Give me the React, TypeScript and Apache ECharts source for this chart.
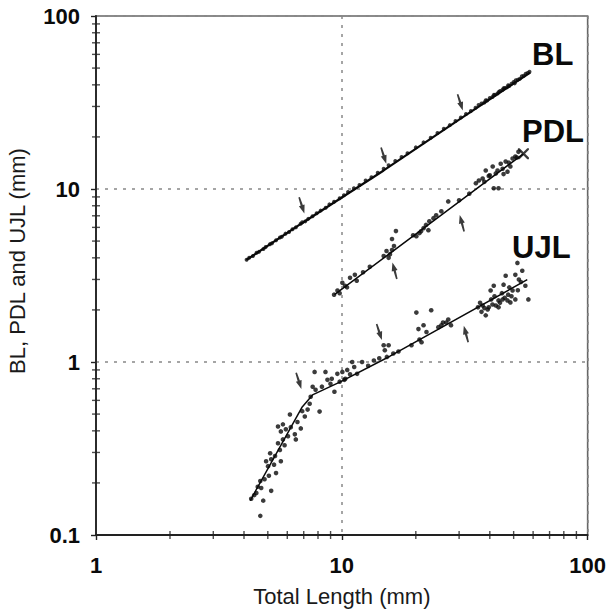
import React, { useEffect, useRef } from "react";
import * as echarts from "echarts";

// ---------- data ----------
const xTickLabels = ["1", "10", "100"];
const yTickLabels = ["0.1", "1", "10", "100"];
const xMinorTicks = [2, 3, 4, 5, 6, 7, 8, 9, 20, 30, 40, 50, 60, 70, 80, 90];
const yMinorTicks = [0.2, 0.3, 0.4, 0.5, 0.6, 0.7, 0.8, 0.9, 2, 3, 4, 5, 6, 7, 8, 9, 20, 30, 40, 50, 60, 70, 80, 90];

// fitted allometric lines (total length mm, part length mm)
const blFit = [[4.09, 3.89], [6.81, 6.28], [14.8, 12.8], [30.0, 25.2], [58.4, 47.1]];
const pdlFit = [[9.33, 2.45], [16.3, 4.42], [31.1, 8.78], [54.8, 15.98]];
const ujlFit = [[4.24, 0.158], [6.9, 0.55], [7.6, 0.645], [9.86, 0.768], [15.7, 1.08], [56.8, 2.99]];

// observations
const blPoints = [
  [4.1, 3.9], [4.2, 4.0], [4.35, 4.1], [4.5, 4.28], [4.6, 4.33], [4.8, 4.5], [4.9, 4.62], [5.1, 4.8],
  [5.2, 4.86], [5.4, 5.05], [5.6, 5.25], [5.7, 5.3], [5.9, 5.52], [6.1, 5.64], [6.3, 5.85], [6.5, 6.0],
  [6.8, 6.3], [6.9, 6.42], [7.1, 6.5], [7.3, 6.72], [7.6, 6.95], [7.9, 7.25], [8.2, 7.5], [8.6, 7.8],
  [8.9, 8.15], [9.3, 8.45], [9.8, 8.85], [10.2, 9.2], [10.6, 9.6], [11.2, 10.1], [11.8, 10.55], [12.5, 11.2],
  [13.2, 11.7], [14.0, 12.4], [14.8, 13.1], [15.5, 13.7], [16.5, 14.5], [17.5, 15.3], [18.5, 16.1], [20, 17.4],
  [21.5, 18.6], [23, 19.8], [24.5, 21.1], [26, 22.3], [27.5, 23.4], [29, 24.7], [30.5, 25.9], [32, 27.1],
  [33.5, 28.2], [35, 29.5], [36, 30.6], [37, 31.2], [38, 31.6], [38.5, 32.6], [39, 32.5], [40, 33.6],
  [41, 34.0], [41.5, 35.0], [42, 35.1], [43, 35.6], [43.5, 36.4], [44, 36.9], [45, 37.3], [45.5, 38.2],
  [46, 38.3], [47, 38.7], [47.5, 39.8], [48, 39.4], [49, 40.6], [50, 41.5], [50.5, 40.8], [51, 42.5],
  [52, 42.8], [53, 43.4], [54, 44.8], [55, 45.2], [56, 46.3], [57, 46.8], [58, 47.6]
];

const pdlPoints = [
  [9.3, 2.45], [9.6, 2.59], [10.05, 2.87], [10.3, 2.76], [10.8, 3.07], [11.3, 3.19], [11.5, 2.95], [9.8, 2.5],
  [10.5, 2.7], [12.2, 3.3], [13.0, 3.55], [14.8, 4.1], [15.2, 4.38], [15.5, 4.0], [16.0, 4.44], [16.3, 4.68],
  [16.6, 5.71], [16.0, 5.14], [15.7, 4.2], [20.1, 5.34], [20.7, 5.56], [21.5, 5.94], [22.5, 5.78], [22.7, 6.51],
  [23.6, 6.78], [24.2, 7.05], [25.4, 7.43], [27.1, 8.48], [21.0, 5.7], [22.0, 6.2], [19.5, 5.4], [30, 8.6],
  [33, 9.4], [35.1, 10.8], [36.1, 11.2], [37.4, 11.5], [38.5, 12.8], [39.6, 11.9], [41.1, 13.5], [41.5, 10.1],
  [42.3, 12.3], [43.4, 10.1], [44.3, 14.0], [45.1, 13.1], [46.4, 14.4], [47.2, 12.6], [48.5, 13.5], [49.5, 15.0],
  [50.8, 15.4], [52.3, 16.4], [38, 11.0], [40, 12.0], [43, 12.8], [45.5, 12.2], [47.8, 14.2], [51.5, 15.2]
];
const pdlEndMark = [[54.8, 16.0]];

const ujlPoints = [
  [4.66, 0.129], [4.28, 0.162], [4.49, 0.175], [4.7, 0.187], [5.16, 0.18], [4.79, 0.158], [4.66, 0.205],
  [5.01, 0.25], [4.92, 0.267], [5.35, 0.286], [5.5, 0.339], [5.11, 0.297], [5.76, 0.357], [5.5, 0.424],
  [5.65, 0.397], [5.92, 0.408], [6.15, 0.497], [6.44, 0.382], [6.5, 0.357], [5.76, 0.436], [6.04, 0.372],
  [5.4, 0.228], [5.65, 0.267], [5.16, 0.274], [6.81, 0.413], [7.07, 0.484], [7.26, 0.531], [7.47, 0.63],
  [7.82, 0.691], [7.4, 0.574], [7.61, 0.719], [7.75, 0.876], [8.12, 0.517], [8.74, 0.789], [8.99, 0.748],
  [9.59, 0.854], [10.05, 0.876], [9.33, 0.673], [10.24, 0.789], [8.58, 0.876], [10.33, 0.799], [10.52, 0.9],
  [11.02, 1.0], [11.23, 0.936], [11.54, 0.854], [12.09, 1.0], [4.4, 0.17], [4.55, 0.19], [4.85, 0.21],
  [5.05, 0.22], [5.3, 0.255], [5.6, 0.31], [5.85, 0.33], [6.2, 0.42], [6.6, 0.45], [6.9, 0.52], [8.3, 0.72],
  [9.1, 0.8], [9.8, 0.77], [10.8, 0.85], [12.8, 0.95], [13.5, 1.02], [14.8, 1.25], [15.25, 1.07], [15.5, 1.25],
  [14.96, 1.17], [20.1, 1.93], [23.1, 1.99], [20.5, 1.55], [21.5, 1.63], [22.1, 1.49], [20.7, 1.35],
  [25.8, 1.69], [27.1, 1.76], [27.8, 1.63], [21.1, 1.3], [19.2, 1.25], [16.2, 1.12], [17.0, 1.15], [14.2, 1.05],
  [25.4, 1.63], [26.6, 1.69], [24.7, 1.59], [51.8, 3.74], [54.2, 3.37], [50.8, 3.19], [46.4, 3.15], [45.5, 2.8],
  [55.8, 2.76], [57.4, 2.3], [49.5, 2.59], [41.5, 2.76], [40.3, 2.59], [43.4, 2.27], [45.1, 2.3], [47.2, 2.27],
  [42.3, 2.12], [39.6, 2.07], [37.4, 2.12], [35.8, 2.07], [38.5, 1.86], [39.2, 2.01], [43.4, 2.07], [48.5, 2.21],
  [50.8, 2.3], [36.5, 2.2], [38, 2.05], [41, 2.15], [44, 2.2], [46, 2.35], [47.5, 2.45], [49, 2.4], [52, 2.6],
  [53.5, 2.9], [41.8, 2.4], [44.8, 2.5], [48, 2.7], [52.5, 3.0], [37, 1.95], [40.5, 2.3]
];

// breakpoint arrows
const arrowsDown = [[6.87, 8.04], [14.8, 15.6], [30.3, 31.7], [6.68, 0.778], [14.2, 1.49]];
const arrowsUp = [[16.4, 3.37], [30.8, 6.34], [32.0, 1.45]];

const curveLabels = ["BL", "PDL", "UJL"];

// ---------- chart ----------
const FONT = "'Liberation Sans', Arial, Helvetica, sans-serif";
const INK = "#0a0a0a";
const ARROW = "path://M1.3,0 L2.7,0 L3.0,8 L4.6,8 L2,16 L-0.6,8 L1.0,8 Z";

export default function App() {
  const ref = useRef<HTMLDivElement>(null);

  useEffect(() => {
    if (!ref.current) return;
    const chart = echarts.init(ref.current, undefined, { renderer: "svg" });

    const lineSeries = (name: string, data: number[][], width: number) => ({
      name,
      type: "line",
      data,
      symbol: "none",
      lineStyle: { color: INK, width },
      z: 3,
    });
    const dotSeries = (name: string, data: number[][], size: number) => ({
      name,
      type: "scatter",
      data,
      symbol: "circle",
      symbolSize: size,
      itemStyle: { color: INK },
      z: 4,
    });

    chart.setOption({
      animation: false,
      backgroundColor: "#fff",
      textStyle: { fontFamily: FONT },
      grid: {
        left: 96,
        top: 16,
        right: 16,
        bottom: 72,
        show: true,
        borderColor: "#666",
        borderWidth: 1.6,
        backgroundColor: "transparent",
      },
      xAxis: {
        type: "log",
        logBase: 10,
        min: 1,
        max: 100,
        name: "Total Length (mm)",
        nameLocation: "middle",
        nameGap: 50,
        nameTextStyle: { fontSize: 22, color: "#1a1a1a", fontFamily: FONT },
        axisLine: { lineStyle: { color: "#222", width: 1.8 } },
        axisTick: { show: true, length: 5, lineStyle: { color: "#222", width: 1.4 } },
        axisLabel: {
          fontSize: 22,
          fontWeight: "bold",
          color: INK,
          margin: 19,
          showMaxLabel: true,
          showMinLabel: true,
          formatter: (v: number) => xTickLabels[Math.round(Math.log10(v))] ?? "",
        },
        splitLine: { show: true, lineStyle: { color: "#888", width: 1.5, type: [3, 6] } },
      },
      yAxis: {
        type: "log",
        logBase: 10,
        min: 0.1,
        max: 100,
        axisLine: { lineStyle: { color: "#222", width: 1.8 } },
        axisTick: { show: true, length: 5, lineStyle: { color: "#222", width: 1.4 } },
        axisLabel: {
          fontSize: 22,
          fontWeight: "bold",
          color: INK,
          margin: 16,
          formatter: (v: number) => yTickLabels[Math.round(Math.log10(v)) + 1] ?? "",
        },
        splitLine: { show: true, lineStyle: { color: "#888", width: 1.5, type: [3, 6] } },
      },
      graphic: [
        {
          type: "text",
          x: 17,
          y: 261,
          rotation: Math.PI / 2,
          style: {
            text: "BL, PDL and UJL (mm)",
            fontSize: 22,
            fontFamily: FONT,
            fill: "#1a1a1a",
            align: "center",
            verticalAlign: "middle",
            textAlign: "center",
            textVerticalAlign: "middle",
          },
        },
        {
          type: "text",
          x: 532,
          y: 54,
          style: { text: curveLabels[0], fontSize: 31, fontWeight: "bold", fontFamily: FONT, fill: INK, verticalAlign: "middle", textVerticalAlign: "middle" },
        },
        {
          type: "text",
          x: 522,
          y: 131,
          style: { text: curveLabels[1], fontSize: 31, fontWeight: "bold", fontFamily: FONT, fill: INK, verticalAlign: "middle", textVerticalAlign: "middle" },
        },
        {
          type: "text",
          x: 512,
          y: 247,
          style: { text: curveLabels[2], fontSize: 31, fontWeight: "bold", fontFamily: FONT, fill: INK, verticalAlign: "middle", textVerticalAlign: "middle" },
        },
      ],
      series: [
        lineSeries("BL fit", blFit, 2.2),
        lineSeries("PDL fit", pdlFit, 1.5),
        lineSeries("UJL fit", ujlFit, 1.5),
        dotSeries("BL", blPoints, 4),
        dotSeries("PDL", pdlPoints, 4.6),
        dotSeries("UJL", ujlPoints, 4.6),
        {
          name: "PDL end",
          type: "scatter",
          data: pdlEndMark,
          symbol: "path://M0,0 L1.5,0 L10,8.5 L10,10 L8.5,10 L0,1.5 Z M8.5,0 L10,0 L10,1.5 L1.5,10 L0,10 L0,8.5 Z",
          symbolSize: 11,
          itemStyle: { color: INK },
          z: 4,
        },
        {
          name: "breaks down",
          type: "scatter",
          data: arrowsDown,
          symbol: ARROW,
          symbolSize: [6, 17],
          symbolRotate: 18,
          itemStyle: { color: INK },
          z: 5,
        },
        {
          name: "breaks up",
          type: "scatter",
          data: arrowsUp,
          symbol: ARROW,
          symbolSize: [6, 17],
          symbolRotate: 195,
          itemStyle: { color: INK },
          z: 5,
        },
        {
          name: "x minor ticks",
          type: "scatter",
          data: xMinorTicks.map((v) => [v, 0.1]),
          symbol: "rect",
          symbolSize: [1.4, 8],
          itemStyle: { color: "#222" },
          clip: false,
          silent: true,
          z: 6,
        },
        {
          name: "y minor ticks",
          type: "scatter",
          data: yMinorTicks.map((v) => [1, v]),
          symbol: "rect",
          symbolSize: [8, 1.4],
          itemStyle: { color: "#222" },
          clip: false,
          silent: true,
          z: 6,
        },
      ],
    });

    return () => chart.dispose();
  }, []);

  return (
    <div
      ref={ref}
      style={{ position: "fixed", left: 0, top: 0, width: 609, height: 612, background: "#fff" }}
    />
  );
}
